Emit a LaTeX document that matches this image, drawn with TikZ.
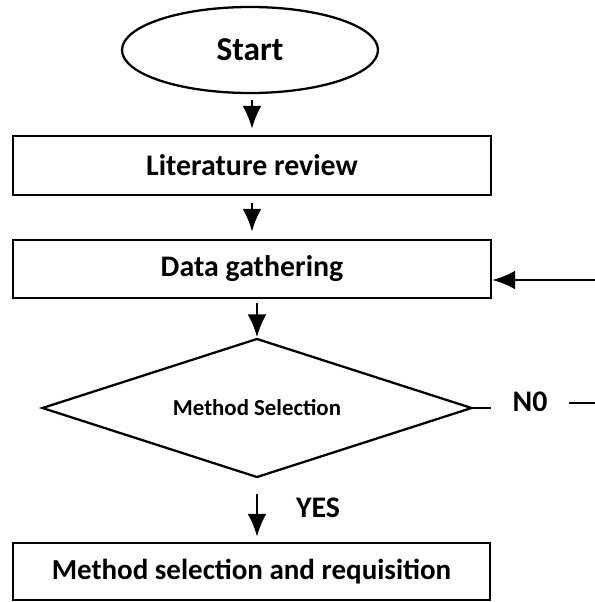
\documentclass[tikz,border=0pt]{standalone}
\usepackage{fontspec}
\setmainfont{Carlito}
\usepackage{tikz}
\usetikzlibrary{shapes, arrows.meta, positioning, calc}

\begin{document}
\begin{tikzpicture}[
	box/.style={draw, line width=1.3pt, rectangle, minimum width=9.56cm, minimum height=1.16cm, inner sep=0pt, font=\fontsize{17}{20}\selectfont\bfseries},
	flow/.style={line width=1.7pt, -{Latex[length=0.46cm,width=0.38cm]}},
	lbl/.style={inner sep=0pt, font=\fontsize{17}{20}\selectfont\bfseries}]
	\useasboundingbox (0,0) rectangle (11.9,-12.04);
	
	\node[draw, line width=1.3pt, ellipse, minimum width=5.12cm, minimum height=1.72cm, inner sep=0pt, font=\fontsize{19}{22}\selectfont\bfseries] (start) at (5.0,-1.0) {Start};
	\node[box, minimum height=1.18cm] (lit) at (5.04,-3.31) {Literature review};
	\node[box] (data) at (5.04,-5.38) {Data gathering};
	\node[draw, line width=1.3pt, diamond, shape aspect=3.1, minimum width=8.6cm, minimum height=2.78cm, inner sep=0pt, font=\fontsize{13}{16}\selectfont\bfseries] (sel) at (5.14,-8.16) {Method Selection};
	\node[box, minimum width=9.54cm, minimum height=1.14cm, font=\fontsize{16.5}{20}\selectfont\bfseries] (req) at (5.03,-11.43) {Method selection and requisition};
	
	% decision labels
	\node[lbl] (no) at (10.6,-8.04) {N0};
	\node[lbl] (yes) at (6.36,-10.16) {YES};
	\coordinate (noout) at (11.9,-8.06);
	\coordinate (back) at (11.9,-5.6);
	
	\draw[flow, shorten <=0.12cm, shorten >=0.12cm] (start.south -| lit.north) -- (lit.north);
	\draw[flow, shorten <=0.14cm, shorten >=0.14cm] (lit.south) -- (data.north);
	\draw[flow, shorten <=0.08cm] (data.south -| sel.north) -- (sel.north);
	\draw[flow, shorten <=0.3cm, shorten >=0.1cm] (sel.south) -- (sel.south |- req.north);
	\draw[line width=1.3pt, shorten >=0.42cm] (sel.east) -- (sel.east -| no.west);
	\draw[line width=1.3pt, shorten <=0.42cm] (no.east |- noout) -- (noout);
	\draw[flow] (back) -- (back -| data.east);
\end{tikzpicture}
\end{document}
